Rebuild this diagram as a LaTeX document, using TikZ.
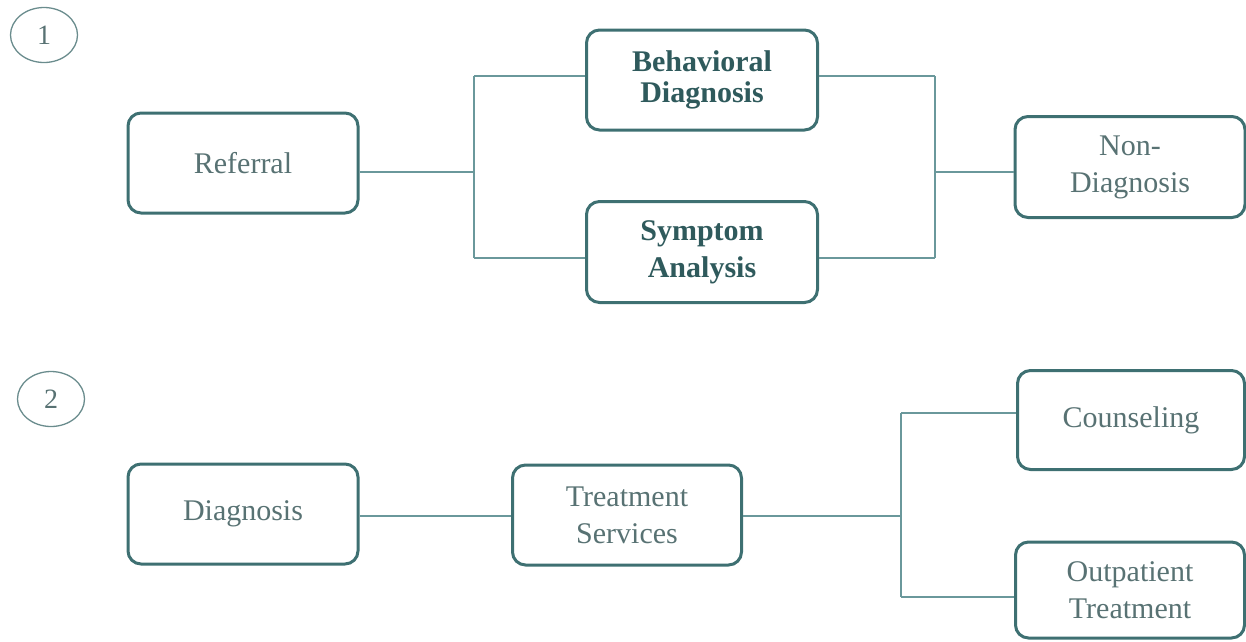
\documentclass[tikz,border=0pt]{standalone}
\usepackage{fontspec}
\setmainfont{Liberation Serif}
\usetikzlibrary{shapes.geometric}
\definecolor{boxline}{HTML}{3E7072}
\definecolor{conn}{HTML}{6A989B}
\definecolor{txt}{HTML}{587273}
\definecolor{btxt}{HTML}{2F5A5C}
\definecolor{circ}{HTML}{6A8C8D}
\tikzset{
  stepbox/.style={draw=boxline, line width=3pt, rounded corners=13pt, fill=white,
    text=txt, align=center, font=\fontsize{30}{37}\selectfont, inner sep=0pt},
  boldbox/.style={stepbox, text=btxt, font=\fontsize{30}{37}\selectfont\bfseries},
  link/.style={draw=conn, line width=2pt},
  numcirc/.style={draw=circ, line width=1.3pt, ellipse, minimum width=67pt, minimum height=55pt,
    text=txt, font=\fontsize{28}{30}\selectfont, inner sep=0pt}
}
\begin{document}
\begin{tikzpicture}[x=1pt,y=-1pt]
\useasboundingbox (0,0) rectangle (1246,641);
% section 1
\node[numcirc] (c1) at (44,35) {1};
\node[stepbox, minimum width=230pt, minimum height=100pt] (ref) at (243,163) {Referral};
\node[boldbox, font=\fontsize{30}{31}\selectfont\bfseries, minimum width=231pt, minimum height=100pt] (beh) at (702,80) {Behavioral\\Diagnosis};
\node[boldbox, minimum width=231pt, minimum height=101pt] (sym) at (702,252) {Symptom\\Analysis};
\node[stepbox, minimum width=230pt, minimum height=101pt] (non) at (1130,167) {Non-\\Diagnosis};
\coordinate (j1) at (474,172);
\coordinate (j1t) at (474,76);
\coordinate (j1b) at (474,258);
\coordinate (j2) at (935,172);
\coordinate (j2t) at (935,76);
\coordinate (j2b) at (935,258);
\draw[link] (ref.east |- j1) -- (j1);
\draw[link] (j1t) -- (j1b);
\draw[link] (j1t) -- (beh.west |- j1t);
\draw[link] (j1b) -- (sym.west |- j1b);
\draw[link] (beh.east |- j2t) -- (j2t);
\draw[link] (sym.east |- j2b) -- (j2b);
\draw[link] (j2t) -- (j2b);
\draw[link] (j2) -- (non.west |- j2);
% section 2
\node[numcirc] (c2) at (51,399) {2};
\node[stepbox, minimum width=230pt, minimum height=100pt] (dia) at (243,514) {Diagnosis};
\node[stepbox, minimum width=229pt, minimum height=100pt] (tre) at (627,515) {Treatment\\Services};
\node[stepbox, minimum width=227pt, minimum height=99pt] (cou) at (1131,420) {Counseling};
\node[stepbox, minimum width=229pt, minimum height=96pt] (out) at (1130,590) {Outpatient\\Treatment};
\coordinate (j3) at (901,516);
\coordinate (j3t) at (901,413);
\coordinate (j3b) at (901,597);
\draw[link] (dia.east |- j3) -- (tre.west |- j3);
\draw[link] (tre.east |- j3) -- (j3);
\draw[link] (j3t) -- (j3b);
\draw[link] (j3t) -- (cou.west |- j3t);
\draw[link] (j3b) -- (out.west |- j3b);
\end{tikzpicture}
\end{document}
